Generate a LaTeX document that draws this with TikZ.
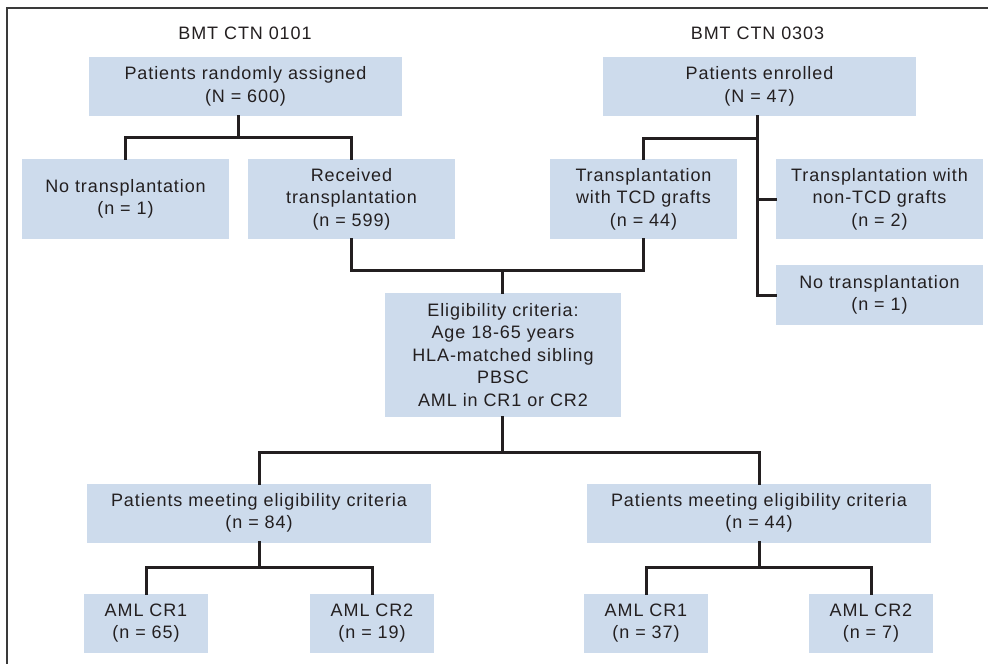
\documentclass[tikz,border=0pt]{standalone}
\usepackage{fontspec}
\setmainfont{Liberation Sans}[LetterSpace=5]
\definecolor{txt}{HTML}{231F20}
\definecolor{boxfill}{HTML}{CDDBEC}
\definecolor{framecol}{HTML}{3A3A3A}
\tikzset{
  box/.style={fill=boxfill, draw=none, inner sep=0pt, align=center, text=txt,
    font=\fontsize{18}{22.5}\selectfont},
  head/.style={inner sep=0pt, text=txt, font=\fontsize{18}{22.5}\selectfont},
  link/.style={draw=txt, line width=3pt, line cap=rect},
  framel/.style={draw=framecol, line width=2pt}
}
\begin{document}
\begin{tikzpicture}[x=1pt, y=-1pt]
\useasboundingbox (0,0) rectangle (988,664);
\draw[framel] (988,8) -- (7,8) -- (7,664);

\node[head] (h1) at (245,33) {BMT CTN 0101};
\node[head] (h2) at (757.5,33) {BMT CTN 0303};

\node[box, minimum width=313pt, minimum height=59pt] (rand) at (245.5,86.5) {Patients randomly assigned\\(N = 600)};
\node[box, minimum width=207pt, minimum height=80pt] (notx) at (125.5,199) {No transplantation\\(n = 1)};
\node[box, minimum width=207pt, minimum height=80pt] (recv) at (351.5,199) {Received\\transplantation\\(n = 599)};

\node[box, minimum width=313pt, minimum height=59pt] (enr) at (759.5,86.5) {Patients enrolled\\(N = 47)};
\node[box, minimum width=187pt, minimum height=80pt] (tcd) at (643.5,199) {Transplantation\\with TCD grafts\\(n = 44)};
\node[box, minimum width=207pt, minimum height=80pt] (ntcd) at (879.5,199) {Transplantation with\\non-TCD grafts\\(n = 2)};
\node[box, minimum width=207pt, minimum height=60pt] (notx2) at (879.5,295) {No transplantation\\(n = 1)};

\node[box, minimum width=236pt, minimum height=124pt] (elig) at (503,355) {Eligibility criteria:\\Age 18-65 years\\HLA-matched sibling\\PBSC\\AML in CR1 or CR2};

\node[box, minimum width=344pt, minimum height=59pt] (meetL) at (259,513) {Patients meeting eligibility criteria\\(n = 84)};
\node[box, minimum width=344pt, minimum height=59pt] (meetR) at (759,513) {Patients meeting eligibility criteria\\(n = 44)};

\node[box, minimum width=124pt, minimum height=59pt] (crL1) at (146,623) {AML CR1\\(n = 65)};
\node[box, minimum width=124pt, minimum height=59pt] (crL2) at (372,623) {AML CR2\\(n = 19)};
\node[box, minimum width=124pt, minimum height=59pt] (crR1) at (646,623) {AML CR1\\(n = 37)};
\node[box, minimum width=124pt, minimum height=59pt] (crR2) at (871,623) {AML CR2\\(n = 7)};

% connectors
\coordinate (j1) at (238,137);
\draw[link] (rand.south -| j1) -- (j1);
\draw[link] (notx.north) |- (j1) -| (recv.north);

\coordinate (j2) at (757,138);
\draw[link] (enr.south -| j2) -- (j2 |- notx2.west);
\draw[link] (tcd.north) |- (j2);
\draw[link] (j2 |- ntcd.west) -- (ntcd.west);
\draw[link] (j2 |- notx2.west) -- (notx2.west);

\coordinate (j3) at (502,270);
\draw[link] (recv.south) |- (j3) -| (tcd.south);
\draw[link] (j3) -- (elig.north -| j3);

\coordinate (j4) at (502,452);
\draw[link] (elig.south -| j4) -- (j4);
\draw[link] (meetL.north) |- (j4) -| (meetR.north);

\coordinate (j5) at (259,567);
\draw[link] (meetL.south) -- (j5);
\draw[link] (crL1.north) |- (j5) -| (crL2.north);

\coordinate (j6) at (759,567);
\draw[link] (meetR.south) -- (j6);
\draw[link] (crR1.north) |- (j6) -| (crR2.north);
\end{tikzpicture}
\end{document}
